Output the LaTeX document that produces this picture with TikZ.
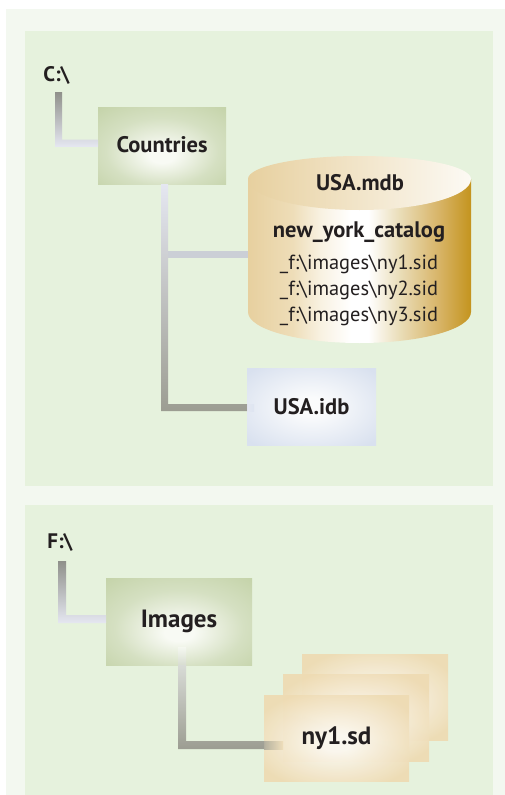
\documentclass[tikz,border=0pt]{standalone}
\usepackage{fontspec}
\setmainfont{PT Sans}
\usetikzlibrary{calc}
\definecolor{outerbg}{HTML}{F3F8F0}
\definecolor{innerbg}{HTML}{E6F2DD}
\definecolor{ink}{HTML}{231F20}
\definecolor{gE}{HTML}{C3D2A7}
\definecolor{gM}{HTML}{D5E0C2}
\definecolor{gC}{HTML}{F8FAF4}
\definecolor{bE}{HTML}{D9E1EF}
\definecolor{bC}{HTML}{FAFBFC}
\definecolor{tE}{HTML}{EEDBB3}
\definecolor{tC}{HTML}{FBF8F0}
\definecolor{cA}{HTML}{E7D09F}
\definecolor{cB}{HTML}{EEDDB8}
\definecolor{cC}{HTML}{F8F1E0}
\definecolor{cD}{HTML}{FFFFFF}
\definecolor{cE}{HTML}{EADDB8}
\definecolor{cF}{HTML}{D7B365}
\definecolor{cG}{HTML}{C4941E}
\definecolor{lnDark}{HTML}{8F908A}
\definecolor{lnLight}{HTML}{E5E7F1}
\definecolor{lnDarkB}{HTML}{9C9D92}
\definecolor{lnBranch}{HTML}{CBCFD6}
\definecolor{lnPale}{HTML}{D8DBD6}
\pgfdeclareradialshading{boxgreen}{\pgfpoint{0bp}{-7bp}}{color(0bp)=(gC); color(5bp)=(gC); color(22bp)=(gM); color(38bp)=(gE); color(50bp)=(gE)}
\pgfdeclareradialshading{boxblue}{\pgfpoint{0bp}{0bp}}{color(0bp)=(bC); color(6bp)=(bC); color(33bp)=(bE); color(50bp)=(bE)}
\pgfdeclareradialshading{boxtan}{\pgfpoint{0bp}{-3bp}}{color(0bp)=(tC); color(5bp)=(tC); color(30bp)=(tE); color(50bp)=(tE)}
\pgfdeclarehorizontalshading{cylbody}{100bp}{color(0bp)=(cA); color(25bp)=(cA); color(35bp)=(cB); color(41bp)=(cC); color(48bp)=(cD); color(52bp)=(cD); color(59bp)=(cE); color(68bp)=(cF); color(75bp)=(cG); color(100bp)=(cG)}
\tikzset{
  boxnode/.style={rectangle,inner sep=0pt,outer sep=0pt,text=ink,align=center,font=\fontsize{22.5}{26}\selectfont\bfseries},
  largelabel/.style={font=\fontsize{25}{29}\selectfont\bfseries},
  greenbox/.style={boxnode,shading=boxgreen},
  bluebox/.style={boxnode,shading=boxblue},
  tanbox/.style={boxnode,shading=boxtan,fill opacity=.93,text opacity=1},
  drive/.style={text=ink,inner sep=0pt,font=\fontsize{21}{25}\selectfont\bfseries},
  cyltitle/.style={text=ink,inner sep=0pt,font=\fontsize{22.5}{26}\selectfont\bfseries},
  cylline/.style={text=ink,inner sep=0pt,font=\fontsize{20.4}{24}\selectfont},
  link/.style={line width=7pt},
}
\begin{document}
\begin{tikzpicture}[x=1pt,y=-1pt]
\useasboundingbox (0,0) rectangle (505,795);
\fill[white] (0,0) rectangle (505,795);
\fill[outerbg] (6,9) rectangle (505,795);
\fill[innerbg] (25,31) rectangle (493,486);
\fill[innerbg] (25,505) rectangle (493,795);
% anchors
\node[drive] (cdrive) at (56.5,75) {C:\textbackslash};
\node[drive] (fdrive) at (60,542) {F:\textbackslash};
\node[greenbox,minimum width=128pt,minimum height=77pt] (countries) at (162,145.5) {\raisebox{2.5pt}{Countries}};
\node[bluebox,minimum width=129pt,minimum height=77pt] (idb) at (311.5,406.5) {USA.idb};
\node[rectangle,inner sep=0pt,minimum width=223pt,minimum height=187pt] (mdb) at (359.5,249.5) {};
\node[greenbox,largelabel,minimum width=146pt,minimum height=87pt] (images) at (179,621.5) {\raisebox{3.5pt}{Images}};
\coordinate (c1) at (58.5,92);
\coordinate (c1b) at (58.5,143);
\coordinate (f1) at (62,561);
\coordinate (f1b) at (62,619);
\coordinate (c2) at (164.5,184);
\coordinate (c2b) at (164.5,407.5);
\coordinate (c3) at (164.5,254.5);
\coordinate (i1) at (182,665);
\coordinate (i1b) at (182,745);
% connectors
\draw[link,lnLight] (c1) |- (countries.west |- c1b);
\shade[top color=lnDark,bottom color=lnLight]
  ($(c1)+(-3.5,0)$) -- ($(c1)+(3.5,0)$) -- ($(c1b)+(3.5,-3.5)$) -- ($(countries.west |- c1b)+(0,-3.5)$)
  -- ($(countries.west |- c1b)+(0,3.5)$) -- ($(c1b)+(-3.5,3.5)$) -- cycle;
\draw[link,lnDarkB] (c2) |- (idb.west |- c2b);
\draw[link,lnBranch] (c3) -- (mdb.west |- c3);
\shade[top color=lnLight,bottom color=lnDarkB]
  ($(c2)+(-3.5,0)$) -- ($(c2)+(3.5,0)$) -- ($(c2b)+(3.5,-3.5)$) -- ($(idb.west |- c2b)+(0,-3.5)$)
  -- ($(idb.west |- c2b)+(0,3.5)$) -- ($(c2b)+(-3.5,3.5)$) -- cycle;
\draw[line width=8pt,lnLight] (f1) |- (images.west |- f1b);
\shade[top color=lnDark,bottom color=lnLight]
  ($(f1)+(-4,0)$) -- ($(f1)+(4,0)$) -- ($(f1b)+(4,-4)$) -- ($(images.west |- f1b)+(0,-4)$)
  -- ($(images.west |- f1b)+(0,4)$) -- ($(f1b)+(-4,4)$) -- cycle;
% cylinder
\shade[shading=cylbody]
  (248,179) -- (248,312)
  .. controls (248,329.1) and (297.9,343) .. (359.5,343)
  .. controls (421.1,343) and (471,329.1) .. (471,312) -- (471,179) -- cycle;
\shade[left color=cA,right color=white!85!cB]
  (248,179) .. controls (248,166.3) and (297.9,156) .. (359.5,156)
  .. controls (421.1,156) and (471,166.3) .. (471,179)
  .. controls (471,196.1) and (421.1,210) .. (359.5,210)
  .. controls (297.9,210) and (248,196.1) .. (248,179) -- cycle;
\node[cyltitle] (mdbname) at (360,183) {USA.mdb};
\node[cyltitle] (catalog) at (359,232) {new\_york\_catalog};
\node[cylline] (ny1) at (359,264) {\_f:\textbackslash images\textbackslash ny1.sid};
\node[cylline] (ny2) at (359,290) {\_f:\textbackslash images\textbackslash ny2.sid};
\node[cylline] (ny3) at (359,316) {\_f:\textbackslash images\textbackslash ny3.sid};
% file stack
\node[tanbox,minimum width=146pt,minimum height=86pt] (sdc) at (375,697) {};
\node[tanbox,minimum width=146pt,minimum height=87pt] (sdb) at (356,717.5) {};
\node[tanbox,largelabel,minimum width=145pt,minimum height=86pt] (sda) at (336.5,738) {\raisebox{-3pt}{ny1.sd}};
\draw[line width=8pt,lnDarkB] (i1) |- (sda.west |- i1b);
\shade[top color=lnPale,bottom color=lnDarkB]
  ($(i1)+(-4,0)$) -- ($(i1)+(4,0)$) -- ($(i1b)+(4,-4)$) -- ($(sda.west |- i1b)+(0,-4)$)
  -- ($(sda.west |- i1b)+(0,4)$) -- ($(i1b)+(-4,4)$) -- cycle;
% connector ends fading into boxes
\shade[top color=gC,bottom color=lnPale,opacity=.7] (178,647) rectangle (186,665);
\shade[left color=lnDarkB,right color=tE,opacity=.7] (264,741) rectangle (283,749);
\shade[left color=lnLight,right color=bE,opacity=.6] (247,404) rectangle (254,411);
\end{tikzpicture}
\end{document}
